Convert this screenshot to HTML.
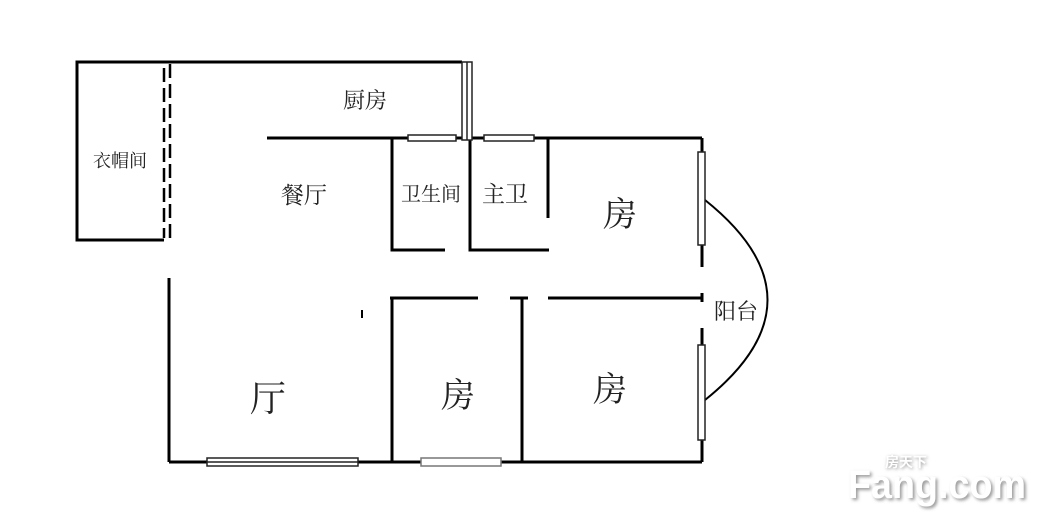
<!DOCTYPE html>
<html><head><meta charset="utf-8"><style>
html,body{margin:0;padding:0;background:#fff;}
svg{display:block}
text{font-family:"Liberation Serif","Noto Serif CJK SC",serif;fill:#222;}
text.wm{font-family:"Liberation Sans","Noto Sans CJK SC",sans-serif;font-weight:bold;}
</style></head><body>
<svg width="1045" height="519" viewBox="0 0 1045 519" xmlns="http://www.w3.org/2000/svg">
<defs><filter id="sh"><feGaussianBlur stdDeviation="1.5"/></filter></defs>
<g stroke="#000" stroke-width="3" fill="none">
<polyline points="164,62 77,62 77,240 164,240"/>
<line x1="77" y1="62" x2="462" y2="62"/>
<line x1="164" y1="68" x2="164" y2="238" stroke-dasharray="14,6" stroke-width="2.5"/>
<line x1="170" y1="64" x2="170" y2="238" stroke-dasharray="14,6" stroke-width="2.5"/>
<line x1="267" y1="138" x2="702" y2="138"/>
<polyline points="392,138 392,250 445,250"/>
<polyline points="470,138 470,250 549,250"/>
<line x1="548" y1="138" x2="548" y2="218"/>
<line x1="702" y1="138" x2="702" y2="267"/>
<line x1="702" y1="328" x2="702" y2="462"/>
<line x1="702" y1="293" x2="702" y2="302"/>
<line x1="390" y1="298" x2="478" y2="298"/>
<line x1="510" y1="298" x2="528" y2="298"/>
<line x1="548" y1="298" x2="702" y2="298"/>
<line x1="392" y1="298" x2="392" y2="462"/>
<line x1="522" y1="298" x2="522" y2="462"/>
<line x1="169" y1="278" x2="169" y2="462"/>
<line x1="169" y1="462" x2="702" y2="462"/>
<line x1="362" y1="310" x2="362" y2="318" stroke-width="2"/>
<path d="M705,200 Q830,300 705,400" stroke-width="2"/>
</g>
<g fill="#fff" stroke="#222" stroke-width="1.5">
<rect x="462" y="62" width="10" height="78"/>
<line x1="467" y1="62" x2="467" y2="140"/>
<rect x="408" y="135" width="48" height="6"/>
<rect x="484" y="135" width="50" height="6"/>
<rect x="698" y="152" width="7" height="93"/>
<rect x="698" y="345" width="7" height="95"/>
<rect x="207" y="458" width="151" height="8"/>
<line x1="207" y1="462" x2="358" y2="462"/>
<rect x="421" y="458" width="80" height="8" stroke="#777"/>
</g>
<text x="365" y="108" font-size="22" text-anchor="middle">厨房</text>
<text x="120" y="167" font-size="18" text-anchor="middle">衣帽间</text>
<text x="304" y="203" font-size="23" text-anchor="middle">餐厅</text>
<text x="431" y="201" font-size="20" text-anchor="middle">卫生间</text>
<text x="505" y="202" font-size="23" text-anchor="middle">主卫</text>
<text x="620" y="226" font-size="34" text-anchor="middle">房</text>
<text x="736" y="319" font-size="22" text-anchor="middle">阳台</text>
<text x="268" y="411" font-size="36" text-anchor="middle">厅</text>
<text x="458" y="407" font-size="34" text-anchor="middle">房</text>
<text x="610" y="401" font-size="34" text-anchor="middle">房</text>
<text class="wm" x="850" y="500" font-size="40" textLength="178" lengthAdjust="spacingAndGlyphs" style="fill:#999" filter="url(#sh)">Fang.com</text>
<text class="wm" x="848" y="498" font-size="40" textLength="178" lengthAdjust="spacingAndGlyphs" style="fill:#fff">Fang.com</text>
<text class="wm" x="886" y="468" font-size="14" style="fill:#999" filter="url(#sh)">房天下</text>
<text class="wm" x="885" y="467" font-size="14" style="fill:#fff">房天下</text>
</svg>
</body></html>
